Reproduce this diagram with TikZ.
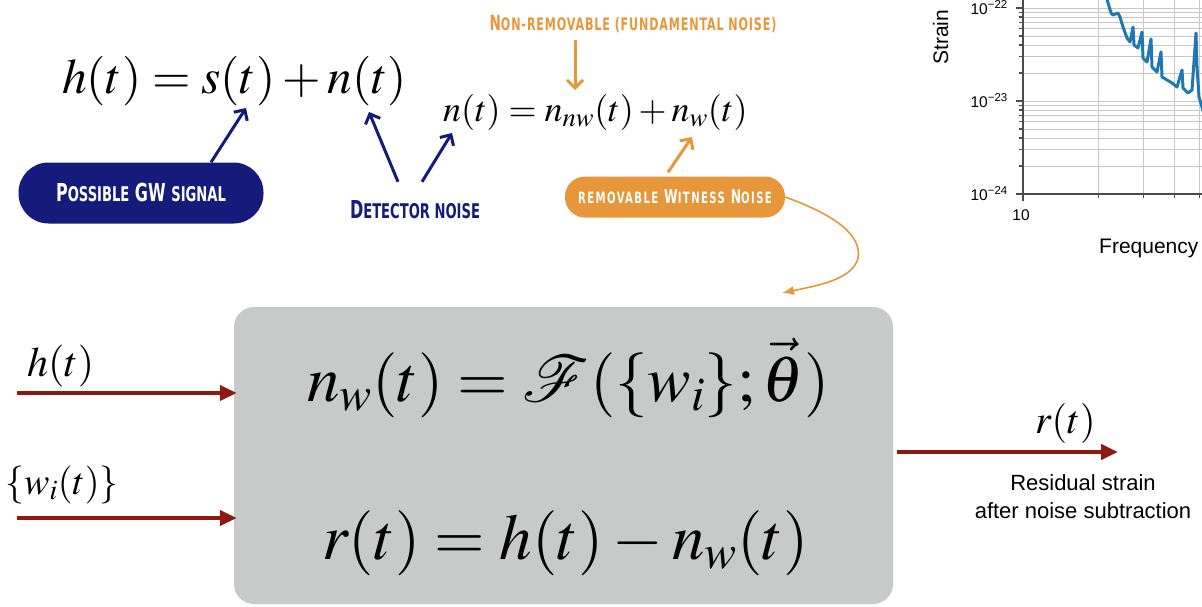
\documentclass[tikz,border=0pt]{standalone}
\usepackage{graphicx}
\usepackage{mathptmx}
\usepackage{mathrsfs}
\usepackage[no-math]{fontspec}
\setmainfont{Liberation Serif}
\newfontfamily\plotfont{Liberation Sans}
\newfontfamily\tagfont[FakeStretch=0.72]{DejaVu Sans Condensed Bold}
\usetikzlibrary{arrows.meta}

% script F at any size
\DeclareFontFamily{U}{rsfs}{\skewchar\font127 }
\DeclareFontShape{U}{rsfs}{m}{n}{<-> rsfs10}{}

\definecolor{gwnavy}{RGB}{20,27,123}
\definecolor{noiseorange}{RGB}{232,150,58}
\definecolor{flowred}{RGB}{140,26,18}
\definecolor{boxgray}{RGB}{200,201,201}
\definecolor{psdblue}{RGB}{31,119,180}

% smaller capitals for the tag labels
\newcommand{\lowcaps}[1]{\scalebox{0.82}{#1}}

\begin{document}
\begin{tikzpicture}[
    x=1pt, y=-1pt,
    every node/.style={inner sep=0pt},
    tagpill/.style={text=white, font=\tagfont},
    navyarrow/.style={gwnavy, line width=3pt, -{Straight Barb[length=8pt,width=16pt]}},
    orangearrow/.style={noiseorange, line width=3pt, -{Straight Barb[length=8pt,width=16pt]}},
    thinarrow/.style={noiseorange, line width=1.6pt, -{Latex[length=12pt,width=9pt]}},
    flowarrow/.style={flowred, line width=4pt, -{Triangle[length=17pt,width=15pt]}},
    gridline/.style={black!22, line width=0.9pt},
    axisline/.style={black!70, line width=1.2pt}
]
  \useasboundingbox (0,0) rectangle (1202,606);

  % top line: strain model
  \node[anchor=base west, font=\fontsize{49.5}{50}\selectfont] (hsum) at (62,93)
    {$h(t) = s(t) + n(t)$};
  \node[anchor=base west, font=\fontsize{36}{36}\selectfont] (nsum) at (443,121)
    {$n(t) = n_{nw}(t) + n_{w}(t)$};

  \coordinate (st)    at (246,108);
  \coordinate (nt)    at (369,112);
  \coordinate (nnt)   at (452,133);
  \coordinate (nnw)   at (575,90);
  \coordinate (nwsub) at (692,137);
  \coordinate (boxin) at (782,293);

  \node[tagpill, fill=gwnavy, minimum width=245pt, minimum height=61pt,
        rounded corners=30pt] (gw) at (141,193)
    {\fontsize{24.7}{25}\selectfont P\lowcaps{OSSIBLE} GW \lowcaps{SIGNAL}};
  \node[anchor=base, font=\tagfont\fontsize{24.7}{25}\selectfont, text=gwnavy]
    (det) at (415,218) {D\lowcaps{ETECTOR NOISE}};
  \node[anchor=base, font=\tagfont\fontsize{21}{21}\selectfont\addfontfeatures{LetterSpace=5},
        text=noiseorange] (nonrem) at (633,30)
    {N\lowcaps{ON-REMOVABLE (FUNDAMENTAL NOISE)}};
  \node[tagpill, fill=noiseorange, minimum width=220pt, minimum height=41pt,
        rounded corners=20pt] (wit) at (675,197)
    {\fontsize{19}{19}\selectfont\addfontfeatures{LetterSpace=9}%
     \lowcaps{REMOVABLE} W\lowcaps{ITNESS} N\lowcaps{OISE}};

  \draw[navyarrow] ([xshift=70pt]gw.north) -- (st);
  \draw[navyarrow] ([shift={(-17,-18)}]det.north) -- (nt);
  \draw[navyarrow] ([shift={(7,-18)}]det.north) -- (nnt);
  \draw[orangearrow] (nonrem.south -| nnw) ++(0,8) -- (nnw);
  \draw[orangearrow] ([shift={(-7,-4)}]wit.north) -- (nwsub);
  \draw[thinarrow] (wit.east) .. controls (835,215) and (862,235) .. (858,258)
    .. controls (853,280) and (815,286) .. (boxin);

  % subtraction block
  \node[fill=boxgray, rounded corners=20pt, minimum width=659pt,
        minimum height=297pt] (box) at (563.5,455.5) {};
  \node[anchor=base west, font=\fontsize{65}{65}\selectfont] (nweq) at (307,401)
    {$n_{w}(t) = \mathscr{F}(\{w_i\};\vec{\theta})$};
  \node[anchor=base west, font=\fontsize{65}{65}\selectfont] (req) at (322,559)
    {$r(t) = h(t) - n_{w}(t)$};

  \coordinate (hsrc) at (17,393);
  \coordinate (wsrc) at (17,518);
  \coordinate (rout) at (1118,452);
  \node[anchor=base west, font=\fontsize{42}{42}\selectfont] (hlab) at (27,376) {$h(t)$};
  \node[anchor=base west, font=\fontsize{38}{38}\selectfont] (wlab) at (5,494) {$\{w_i(t)\}$};
  \node[anchor=base west, font=\fontsize{40}{40}\selectfont] (rlab) at (1035,433) {$r(t)$};

  \draw[flowarrow, shorten >=-3pt] (hsrc) -- (hsrc -| box.west);
  \draw[flowarrow, shorten >=-3pt] (wsrc) -- (wsrc -| box.west);
  \draw[flowarrow] (box.east |- rout) ++(4,0) -- (rout);

  \node[align=center, font=\plotfont\fontsize{22}{28}\selectfont] (resid) at (1083,497)
    {Residual strain\\after noise subtraction};

  % strain spectrum, top right corner
  \def\xzero{1023}
  \def\ybot{194}
  \def\dec{93}
  \def\xdec{252}

  \begin{scope}
    \clip (\xzero,0) rectangle (1202,\ybot);
    \foreach \d in {0,1,2} {
      \foreach \k in {1,...,9} {
        \pgfmathsetmacro\yy{\ybot-\dec*(\d+log10(\k))}
        \draw[gridline] (\xzero,\yy) -- (1202,\yy);
      }
    }
    \foreach \k in {2,...,5} {
      \pgfmathsetmacro\xx{\xzero+\xdec*log10(\k)}
      \draw[gridline] (\xx,0) -- (\xx,\ybot);
    }
    \draw[psdblue, line width=3pt, line join=round] plot coordinates {
      (1106,-4)  (1111,13)  (1113,15)  (1118,13)  (1120,17)  (1123,27)
      (1127,38)  (1130,42)  (1133,27)  (1134,45)  (1138,48)  (1142,32)
      (1143,58)  (1147,62)  (1151,39)  (1152,67)  (1157,72)  (1161,52)
      (1162,77)  (1167,80)  (1172,83)  (1177,87)  (1182,70)  (1183,88)
      (1188,93)  (1192,90)  (1196,33)  (1197,67)  (1199,97)  (1204,114)
    };
  \end{scope}

  % axes and ticks
  \draw[axisline] (\xzero,0) -- (\xzero,\ybot) -- (1202,\ybot);
  \foreach \d/\ex in {0/24, 1/23, 2/22} {
    \pgfmathsetmacro\yy{\ybot-\dec*\d}
    \draw[axisline] (\xzero-7,\yy) -- (\xzero,\yy);
    \node[anchor=base east, font=\plotfont\fontsize{15.5}{16}\selectfont]
      (ylab\ex) at (1008,\yy+6) {10\textsuperscript{−\ex}};
    \foreach \k in {2,...,9} {
      \pgfmathsetmacro\ym{\ybot-\dec*(\d+log10(\k))}
      \ifdim\ym pt>0pt \draw[axisline] (\xzero-4,\ym) -- (\xzero,\ym); \fi
    }
  }
  \draw[axisline] (\xzero,\ybot) -- (\xzero,\ybot+7);
  \foreach \k in {2,...,5} {
    \pgfmathsetmacro\xx{\xzero+\xdec*log10(\k)}
    \draw[axisline] (\xx,\ybot) -- (\xx,\ybot+4);
  }
  \node[anchor=base, font=\plotfont\fontsize{15.5}{16}\selectfont] (xlab) at (1021,220) {10};
  \node[anchor=base west, font=\plotfont\fontsize{21}{21}\selectfont] (freq) at (1099,253) {Frequency};
  \node[anchor=base west, rotate=90, font=\plotfont\fontsize{21}{21}\selectfont] (strain) at (948,65) {Strain};
\end{tikzpicture}
\end{document}
